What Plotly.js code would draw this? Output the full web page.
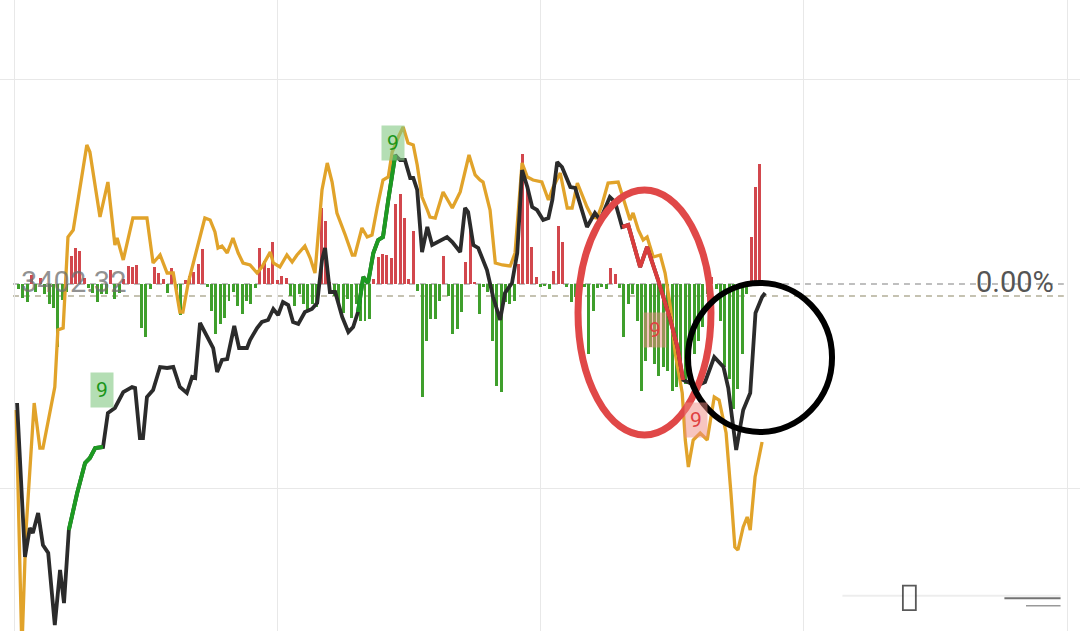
<!DOCTYPE html>
<html>
<head>
<meta charset="utf-8">
<script src="https://cdn.plot.ly/plotly-3.0.1.min.js"></script>
<style>html,body{margin:0;padding:0;background:#fff;}#chart{width:1080px;height:631px;}</style>
</head>
<body>
<div id="chart"></div>
<script>
// ---- data (minutes since 9:30) ----
const prevClose = 3402.32;
const refLine = 3401.12;

const priceTime = [0.7,2.5,3.6,4.3,5.5,6.6,7.8,9.3,10.5,11.4,
12.5,14.4,16.2,17.3,18.5,20.3,21.4,23.0,24.9,26.9,
27.6,28.7,29.4,30.3,31.7,33.3,34.9,36.3,37.8,39.4,
40.6,41.3,42.4,45.4,46.3,47.4,48.6,50.2,51.3,53.1,
53.8,55.4,56.5,57.9,59.1,60.2,61.3,62.5,63.6,64.8,
66.3,67.9,69.1,70.2,70.9,72.0,73.2,74.8,76.2,77.3,
78.4,79.6,80.7,81.9,83.0,84.1,85.3,86.9,87.3,88.0,
89.1,90.3,91.0,91.9,93.0,94.2,95.3,96.7,98.7,99.9,
101.7,102.8,103.5,104.7,105.8,107.8,109.2,110.8,111.9,113.5,
114.7,115.8,117.0,118.1,119.2,120.6,121.8,122.7,123.8,124.9,
126.8,127.9,130.6,132.4,133.6,135.8,137.0,138.6,140.0,142.7,
144.3,146.8,149.6,151.2,152.5,155.5,157.5,159.6,161.7,162.8,
164.6,166.2,167.8,169.0,170.5,171.2];

const priceValue = [3390.42,3375.02,3377.92,3377.42,3379.42,3376.22,3375.42,3368.22,3373.72,3370.42,
3377.72,3381.42,3384.42,3384.92,3385.92,3386.02,3389.42,3389.92,3391.52,3392.02,
3391.92,3386.92,3386.92,3391.02,3391.72,3394.02,3393.92,3394.02,3392.02,3391.42,
3393.02,3392.92,3398.42,3395.92,3393.52,3394.72,3394.82,3398.12,3395.92,3395.92,
3396.72,3397.92,3398.52,3398.72,3399.82,3399.22,3400.52,3400.22,3398.52,3398.32,
3399.52,3399.82,3400.42,3404.72,3405.92,3401.52,3401.52,3399.02,3397.52,3398.02,
3399.52,3403.02,3402.42,3405.42,3406.72,3407.02,3410.72,3415.22,3415.02,3414.72,
3414.72,3412.92,3412.92,3411.72,3405.52,3408.02,3406.22,3406.52,3407.02,3406.52,
3405.52,3409.92,3409.52,3406.22,3405.92,3403.72,3401.02,3398.72,3401.42,3402.42,
3405.42,3413.72,3412.02,3410.02,3409.72,3408.72,3408.92,3410.72,3414.52,3414.02,
3412.02,3411.92,3408.02,3409.42,3408.72,3411.02,3410.52,3408.02,3408.22,3404.02,
3406.02,3402.72,3398.72,3396.02,3392.72,3392.12,3392.52,3395.02,3394.02,3391.92,
3385.72,3389.72,3391.42,3399.42,3401.02,3401.42];

const lineTime = [0.5,1.8,2.7,4.6,5.9,6.6,9.3,10.0,11.2,12.3,
13.5,16.6,17.3,19.6,21.4,23.0,23.5,24.9,27.1,30.3,
31.7,33.3,34.9,36.3,37.8,38.5,39.7,41.7,43.5,44.7,
45.8,46.5,47.4,48.6,49.9,51.1,52.2,53.8,55.4,56.5,
57.7,58.4,59.1,60.6,62.2,63.4,64.5,66.3,67.5,68.6,
70.2,71.4,72.5,73.6,75.5,77.1,77.7,79.3,80.5,81.6,
82.8,84.1,85.3,86.2,87.6,88.7,89.8,91.0,91.9,93.0,
94.2,94.8,96.0,97.8,99.9,101.7,103.7,105.1,106.2,106.9,
108.5,109.7,111.3,113.1,114.2,115.8,117.0,118.3,120.3,121.8,
122.9,124.5,126.1,127.2,128.4,129.5,130.6,131.8,132.9,134.0,
135.4,137.7,139.3,140.4,141.1,142.3,143.4,144.3,145.7,147.3,
148.4,149.6,150.7,152.3,153.0,153.7,154.8,156.4,158.0,159.6,
160.7,162.3,163.4,164.3,165.0,166.2,167.1,167.8,168.9,170.5];

const lineValue = [3389.72,3365.72,3377.42,3390.42,3385.92,3385.92,3392.02,3397.72,3397.92,3407.02,
3407.72,3416.22,3415.52,3409.02,3412.52,3406.22,3406.92,3404.72,3408.92,3408.92,
3404.42,3405.22,3403.42,3403.42,3399.52,3399.52,3402.42,3406.02,3408.92,3408.72,
3407.52,3405.92,3406.12,3405.42,3406.92,3405.42,3404.42,3404.22,3403.42,3404.02,
3405.02,3405.52,3404.42,3404.02,3405.22,3404.52,3405.22,3406.12,3404.92,3403.42,
3411.72,3414.42,3412.52,3409.42,3407.22,3405.22,3405.22,3407.92,3407.02,3407.22,
3410.02,3412.72,3413.02,3415.52,3417.02,3418.02,3416.42,3416.22,3414.22,3411.02,
3409.72,3409.02,3408.92,3411.52,3409.92,3411.52,3415.22,3413.22,3412.72,3412.52,
3409.72,3404.42,3404.22,3404.12,3405.42,3414.42,3413.02,3412.72,3412.52,3410.72,
3412.02,3413.42,3409.92,3409.92,3412.42,3411.22,3410.02,3409.02,3408.92,3410.22,
3412.42,3412.52,3410.42,3408.72,3409.42,3407.72,3406.72,3407.02,3405.02,3405.22,
3403.42,3400.02,3395.42,3391.42,3386.72,3384.02,3386.72,3387.42,3386.72,3391.02,
3390.72,3387.42,3381.42,3376.02,3375.72,3378.02,3379.02,3377.72,3383.02,3386.52];

// buy / sell power bars, one per minute from 9:30
const barPower = [0,-5,-14,-18,9,-8,6,-10,-20,-24,
-63,-16,-8,28,36,33,6,-4,-9,-18,
-10,-10,14,-15,-9,5,18,17,19,-44,
-53,-5,17,11,5,-9,16,-6,-31,4,
8,12,20,35,-3,-27,-50,-40,-34,-17,
-8,-22,-30,-17,-20,-4,36,23,16,42,
4,8,6,-12,-22,-10,-20,-28,-20,-23,
76,63,2,-12,-20,-29,-15,-34,-20,-37,
-37,-35,5,27,30,29,26,80,90,66,
5,53,-7,-113,-57,-35,-35,-17,28,-12,
-50,-45,-28,22,60,2,-30,-3,-8,-57,
-102,-108,-18,-20,-17,20,130,95,37,7,
-3,-2,-5,13,58,42,-3,-18,-13,-4,
-3,-70,-27,-4,-3,-5,16,10,-4,-53,
-20,-10,-37,-107,-77,-63,-80,-92,-83,-87,
-107,-103,-90,-100,-93,-70,-57,-43,-10,7,
-5,-37,-83,-95,-125,-105,-70,-10,47,97,120];

// sequential-count highlighted stretches of the index line
const greenRuns = [[12.5,20.3],[78.4,86.9]];
const redRuns = [[138.6,152.5]];
// "9" count labels: [minute, index level, kind]
const nineTime = [20.1, 86.4, 146.1, 155.4];
const nineValue = [3391.72, 3416.42, 3397.72, 3388.72];
const nineKind = ['buy','buy','sell','sell'];

// ---- build ----
const barMinute = barPower.map((_, i) => i);
const traces = [];
traces.push({
  type:'bar', x: barMinute, y: barPower, yaxis:'y', xaxis:'x',
  marker:{color: barPower.map(v => v >= 0 ? '#d2474d' : '#3f9f2c')},
  width: 0.68, hoverinfo:'skip', showlegend:false
});
traces.push({
  type:'scatter', mode:'lines', x: lineTime, y: lineValue, yaxis:'y2',
  line:{color:'#e1a32a', width:3.3}, showlegend:false, hoverinfo:'skip'
});
traces.push({
  type:'scatter', mode:'lines', x: priceTime, y: priceValue, yaxis:'y2',
  line:{color:'#2b2b2b', width:3.8}, showlegend:false, hoverinfo:'skip'
});
function runTrace(run, color){
  const xs = [], ys = [];
  priceTime.forEach((t, i) => { if (t >= run[0] - 1e-6 && t <= run[1] + 1e-6) { xs.push(t); ys.push(priceValue[i]); } });
  return {type:'scatter', mode:'lines', x: xs, y: ys, yaxis:'y2',
    line:{color: color, width:4}, showlegend:false, hoverinfo:'skip'};
}
greenRuns.forEach(r => traces.push(runTrace(r, '#1d9a22')));
redRuns.forEach(r => traces.push(runTrace(r, '#d93c3c')));

const shapes = [
  {type:'line', xref:'paper', yref:'y2', x0:0.012, x1:0.985, y0:prevClose, y1:prevClose,
   line:{color:'#ababab', width:1.6, dash:'6px,5px'}, layer:'below'},
  {type:'line', xref:'paper', yref:'y2', x0:0.012, x1:0.985, y0:refLine, y1:refLine,
   line:{color:'#b3ae98', width:1.6, dash:'6px,5px'}, layer:'below'},
  // red ellipse mark
  {type:'circle', xref:'paper', yref:'paper', x0:0.5352, x1:0.6583, y0:0.3106, y1:0.6989,
   line:{color:'#e04848', width:7}},
  // black circle mark
  {type:'circle', xref:'paper', yref:'paper', x0:0.637, x1:0.7704, y0:0.3154, y1:0.5515,
   line:{color:'#000000', width:6}},
  // faint watermark in the corner
  {type:'line', xref:'paper', yref:'paper', x0:0.78, x1:0.982, y0:0.056, y1:0.056,
   line:{color:'rgba(0,0,0,0.07)', width:2}},
  {type:'line', xref:'paper', yref:'paper', x0:0.93, x1:0.982, y0:0.052, y1:0.052,
   line:{color:'rgba(0,0,0,0.55)', width:2}},
  {type:'line', xref:'paper', yref:'paper', x0:0.95, x1:0.982, y0:0.04, y1:0.04,
   line:{color:'rgba(0,0,0,0.4)', width:1.5}},
  {type:'rect', xref:'paper', yref:'paper', x0:0.836, x1:0.848, y0:0.033, y1:0.072,
   fillcolor:'rgba(255,255,255,0.6)', line:{color:'rgba(0,0,0,0.65)', width:1.8}}
];

const annotations = [
  {xref:'paper', yref:'y2', x:0.018, y:prevClose, xanchor:'left', yanchor:'middle', yshift:2,
   text: prevClose.toFixed(2), showarrow:false,
   font:{family:'Roboto, sans-serif', size:29, color:'rgba(110,110,110,0.75)'}},
  {xref:'paper', yref:'y2', x:0.978, y:prevClose, xanchor:'right', yanchor:'middle', yshift:2,
   text:'0.00%', showarrow:false,
   font:{family:'Roboto, sans-serif', size:29, color:'#555555'}}
];
nineTime.forEach((t, i) => {
  const buy = nineKind[i] === 'buy';
  annotations.push({xref:'x', yref:'y2', x:t, y:nineValue[i], text:'9', showarrow:false,
    xanchor:'center', yanchor:'middle',
    bgcolor: buy ? 'rgba(130,200,130,0.6)' : 'rgba(240,140,130,0.5)',
    borderpad:5,
    font:{family:'Roboto, sans-serif', size:21, color: buy ? '#1a961a' : '#e04040'}});
});

const layout = {
  width:1080, height:631,
  margin:{l:0, r:0, t:0, b:0},
  paper_bgcolor:'#ffffff', plot_bgcolor:'#ffffff',
  showlegend:false, bargap:0,
  xaxis:{range:[-3.19, 242.96], tickvals:[0,60,120,180,240], showticklabels:false,
    showgrid:true, gridcolor:'#e8e8e8', gridwidth:1, zeroline:false, showline:false, fixedrange:true},
  yaxis:{range:[-347, 284], showgrid:false, zeroline:false, showticklabels:false, fixedrange:true},
  yaxis2:{range:[3367.62, 3430.72], overlaying:'y', side:'right',
    tickvals:[prevClose - 20.41, prevClose + 20.41], showticklabels:false,
    showgrid:true, gridcolor:'#e8e8e8', gridwidth:1, zeroline:false, showline:false, fixedrange:true},
  shapes: shapes,
  annotations: annotations
};
Plotly.newPlot('chart', traces, layout, {staticPlot:true, displayModeBar:false});
</script>
</body>
</html>
